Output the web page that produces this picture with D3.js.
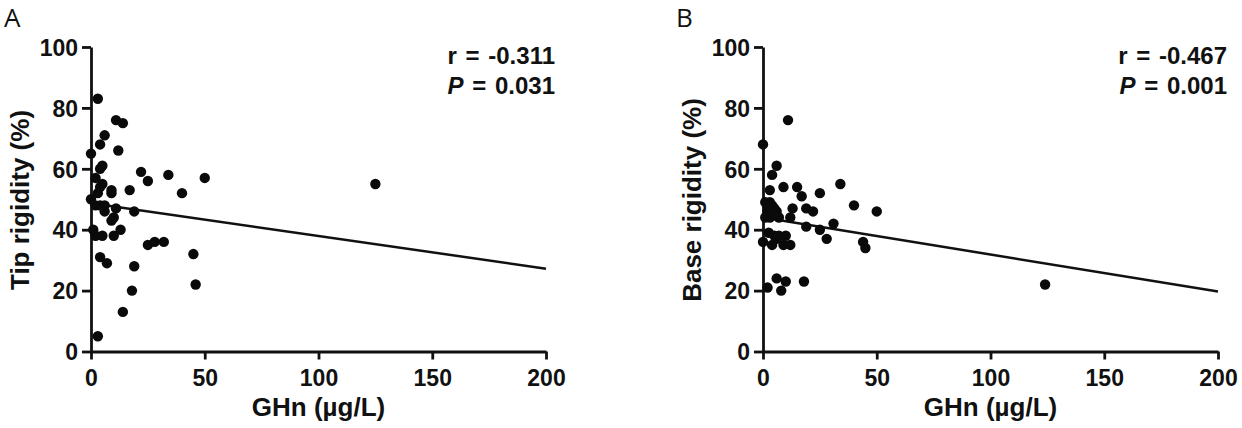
<!DOCTYPE html>
<html lang="en">
<head>
    <meta charset="UTF-8">
    <title>GHn vs rigidity</title>
    <script src="https://d3js.org/d3.v7.min.js"></script>
    <style>
        body {
            margin: 0;
            background: #fff;
        }
        svg text {
            font-family: "Liberation Sans", Arial, sans-serif;
            font-weight: bold;
            fill: #111;
        }
        .panel-label {
            font-family: "Open Sans", "Noto Sans", sans-serif !important;
            font-weight: normal !important;
        }
        .axis path, .axis line {
            stroke: #111;
            stroke-width: 2.8px;
        }
    </style>
</head>
<body>
    <div id="chart"></div>
    <script>
        // Panel A: tip rigidity vs GHn
        const ghnA = [3, 11, 14, 6, 4, 12, 0, 5, 4, 22, 34, 50, 25, 2, 5, 4, 9, 9, 17, 40,
                      0, 2, 4, 6, 6, 11, 19, 9, 10, 1, 2, 5, 13, 10, 25, 28, 32, 45, 4, 7,
                      19, 18, 46, 14, 3, 125, 3];
        const tipRigidity = [83, 76, 75, 71, 68, 66, 65, 61, 60, 59, 58, 57, 56, 57, 55, 54, 53, 52, 53, 52,
                             50, 48, 48, 48, 46, 47, 46, 43, 44, 40, 38, 38, 40, 38, 35, 36, 36, 32, 31, 29,
                             28, 20, 22, 13, 5, 55, 52];

        // Panel B: base rigidity vs GHn
        const ghnB = [11, 0, 6, 4, 3, 9, 15, 17, 34, 25, 40, 50, 13, 19, 22, 1, 3, 4, 6, 2,
                      3, 1, 7, 12, 19, 25, 31, 28, 44, 45, 2.5, 0, 4, 5, 7, 10, 9, 12, 6, 6,
                      10, 18, 2, 8, 124, 5, 2];
        const baseRigidity = [76, 68, 61, 58, 53, 54, 54, 51, 55, 52, 48, 46, 47, 47, 46, 49, 49, 48, 46, 46,
                              44, 44, 44, 44, 41, 40, 42, 37, 36, 34, 39, 36, 35, 38, 38, 38, 35, 35, 37, 24,
                              23, 23, 21, 20, 22, 47, 48];

        // regression line ends (value at x = 0 and x = 200)
        const tipFit = [48.7, 27.2];
        const baseFit = [44.0, 19.7];

        const xTicks = [0, 50, 100, 150, 200];
        const yTicks = [0, 20, 40, 60, 80, 100];

        const width = 1242;
        const height = 428;

        const svg = d3.select("#chart")
            .append("svg")
            .attr("width", width)
            .attr("height", height);

        function drawPanel(opts) {
            const g = svg.append("g").attr("transform", `translate(${opts.dx},0)`);

            const x = d3.scaleLinear().domain([0, 200]).range([91, 546]);
            const y = d3.scaleLinear().domain([0, 100]).range([351.5, 47]);

            // axes
            g.append("g")
                .attr("class", "axis")
                .attr("transform", `translate(0,${y(0)})`)
                .call(d3.axisBottom(x).tickValues(xTicks).tickSize(8).tickSizeOuter(0).tickPadding(10))
                .selectAll("text")
                .style("font-size", "23px");

            g.append("g")
                .attr("class", "axis")
                .attr("transform", `translate(${x(0)},0)`)
                .call(d3.axisLeft(y).tickValues(yTicks).tickSize(9).tickSizeOuter(0).tickPadding(4))
                .selectAll("text")
                .style("font-size", "23px")
                .attr("dy", "0.36em");

            // regression line
            g.append("line")
                .attr("x1", x(0)).attr("y1", y(opts.fit[0]))
                .attr("x2", x(200)).attr("y2", y(opts.fit[1]))
                .attr("stroke", "#111")
                .attr("stroke-width", 2.5);

            // points
            g.append("g")
                .selectAll("circle")
                .data(opts.xs.map((v, i) => [v, opts.ys[i]]))
                .enter()
                .append("circle")
                .attr("cx", d => x(d[0]))
                .attr("cy", d => y(d[1]))
                .attr("r", 5.2)
                .attr("fill", "#0a0a0a");

            // axis titles
            g.append("text")
                .attr("x", (x(0) + x(200)) / 2)
                .attr("y", 416)
                .attr("text-anchor", "middle")
                .style("font-size", "26px")
                .text("GHn (\u00b5g/L)");

            g.append("text")
                .attr("transform", `translate(${opts.titleX},200) rotate(-90)`)
                .attr("text-anchor", "middle")
                .style("font-size", "26px")
                .text(opts.yTitle);

            // stats
            const stats = g.append("text")
                .attr("text-anchor", "end")
                .style("font-size", "24px")
                .style("word-spacing", "2px");
            stats.append("tspan")
                .attr("x", 555).attr("y", 64)
                .text(opts.r);
            const pLine = stats.append("tspan").attr("x", 555).attr("y", 94);
            pLine.append("tspan").style("font-style", "italic").text("P");
            pLine.append("tspan").text(" = " + opts.p);

            // panel letter
            g.append("text")
                .attr("class", "panel-label")
                .attr("x", 4)
                .attr("y", 27)
                .style("font-size", "26px")
                .text(opts.letter);
        }

        drawPanel({dx: 0, letter: "A", xs: ghnA, ys: tipRigidity, fit: tipFit,
                   yTitle: "Tip rigidity (%)", titleX: 29, r: "r = -0.311", p: "0.031"});
        drawPanel({dx: 672, letter: "B", xs: ghnB, ys: baseRigidity, fit: baseFit,
                   yTitle: "Base rigidity (%)", titleX: 29, r: "r = -0.467", p: "0.001"});
    </script>
</body>
</html>
